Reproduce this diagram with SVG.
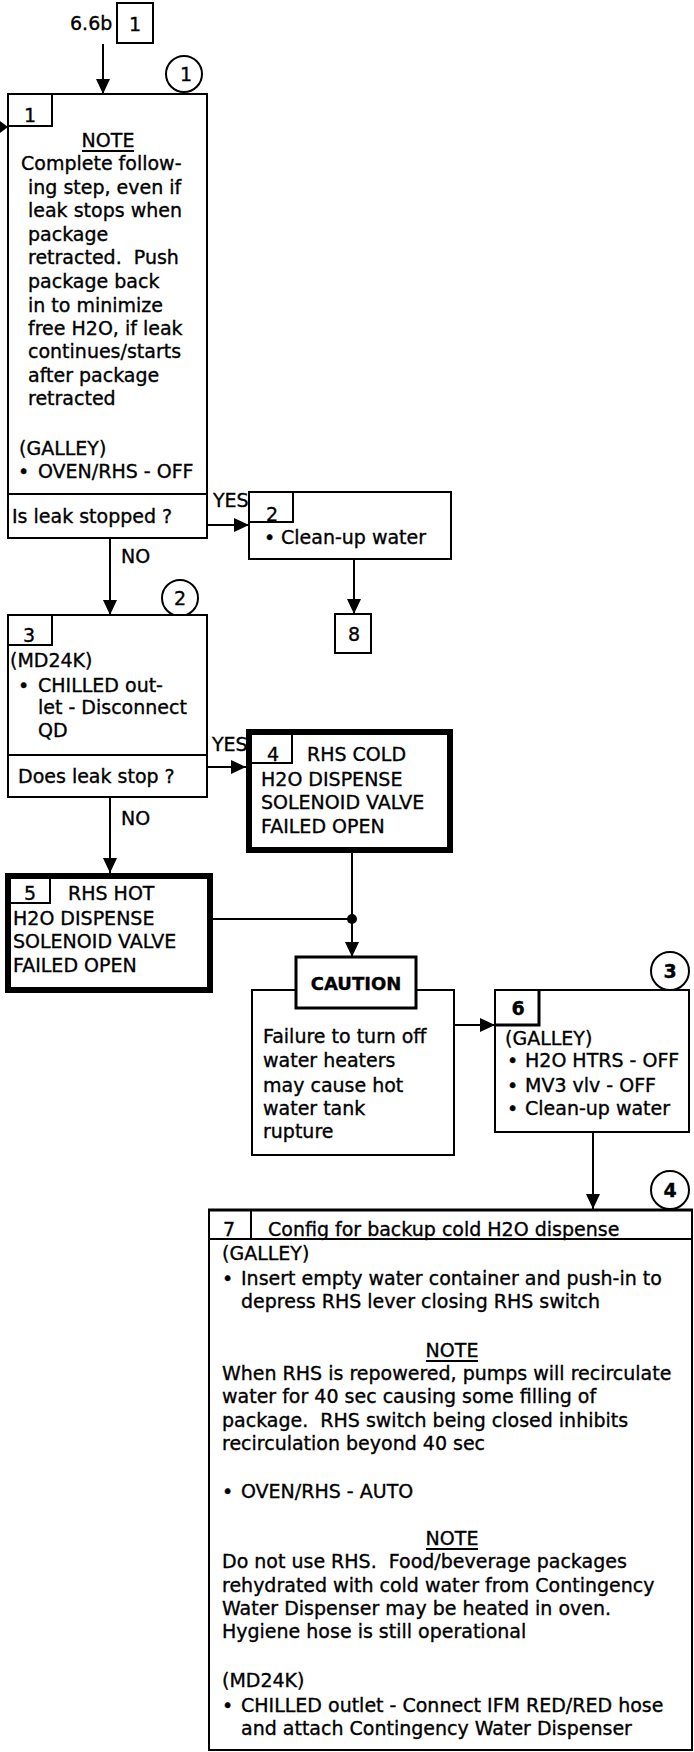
<svg xmlns="http://www.w3.org/2000/svg" width="694" height="1752" viewBox="0 0 694 1752">
<style>
text{font-family:"DejaVu Sans","Liberation Sans",sans-serif;font-size:19px;fill:#000;stroke:#000;stroke-width:0.35}
.b{font-weight:bold}
.m{text-anchor:middle}
.box{fill:#fff;stroke:#000;stroke-width:2}
.thick{fill:#fff;stroke:#000;stroke-width:6}
.ln{fill:none;stroke:#000;stroke-width:2}
.cap{font-weight:bold;font-size:18px}
</style>
<defs>
<marker id="ah" markerWidth="15" markerHeight="14" refX="15" refY="7" orient="auto" markerUnits="userSpaceOnUse"><path d="M0,0 L15,7 L0,14 z" fill="#000"/></marker>
</defs>
<g id="connectors">
<path class="ln" d="M103,44 V94" marker-end="url(#ah)"/>
<path d="M0,121 L8,127 L0,133 z" fill="#000"/>
<path class="ln" d="M207,525 H249" marker-end="url(#ah)"/>
<path class="ln" d="M110,538 V615" marker-end="url(#ah)"/>
<path class="ln" d="M354,559 V614" marker-end="url(#ah)"/>
<path class="ln" d="M207,767 H246" marker-end="url(#ah)"/>
<path class="ln" d="M110,797 V873" marker-end="url(#ah)"/>
<path class="ln" d="M352,853 V919 M213,919 H352"/>
<circle cx="352" cy="919" r="5" fill="#000"/>
<path class="ln" d="M352,919 V957" marker-end="url(#ah)"/>
<path class="ln" d="M454,1025 H495" marker-end="url(#ah)"/>
<path class="ln" d="M593,1132 V1209" marker-end="url(#ah)"/>
<text x="213" y="507">YES</text>
<text x="121" y="563">NO</text>
<text x="212" y="751">YES</text>
<text x="121" y="825">NO</text>
</g>
<g id="entry">
<text x="70" y="30">6.6b</text>
<rect class="box" x="117" y="3" width="36" height="40"/>
<text class="m" x="135" y="31">1</text>
</g>
<g id="circle1"><circle class="box" cx="184" cy="74" r="18"/><text class="m" x="186" y="81">1</text></g>
<g id="circle2"><circle class="box" cx="180" cy="598" r="18"/><text class="m" x="180" y="605">2</text></g>
<g id="circle3"><circle class="box" cx="670" cy="971" r="19"/><text class="m b" x="670" y="978">3</text></g>
<g id="circle4"><circle class="box" cx="670" cy="1190" r="19"/><text class="m b" x="670" y="1197">4</text></g>
<g id="step1">
<rect class="box" x="8" y="94" width="199" height="444"/>
<path class="ln" d="M8,126 H52 V94 M8,494 H207"/>
<text class="m" x="30" y="122">1</text>
<text class="m" x="108" y="147">NOTE</text>
<path class="ln" d="M82,151 H134"/>
<text x="21" y="170">Complete follow-</text>
<text x="28" y="194">ing step, even if</text>
<text x="28" y="217">leak stops when</text>
<text x="28" y="241">package</text>
<text x="28" y="264">retracted.&#160; Push</text>
<text x="28" y="288">package back</text>
<text x="28" y="312">in to minimize</text>
<text x="28" y="335">free H2O, if leak</text>
<text x="28" y="358">continues/starts</text>
<text x="28" y="382">after package</text>
<text x="28" y="405">retracted</text>
<text x="19" y="455">(GALLEY)</text>
<text x="18" y="478">•</text><text x="38" y="478">OVEN/RHS - OFF</text>
<text x="12" y="523">Is leak stopped ?</text>
</g>
<g id="step2">
<rect class="box" x="249" y="492" width="202" height="67"/>
<path class="ln" d="M249,522 H293 V492"/>
<text class="m" x="272" y="521">2</text>
<text x="264" y="544">•</text><text x="281" y="544">Clean-up water</text>
</g>
<g id="goto8">
<rect class="box" x="335" y="614" width="36" height="39"/>
<text class="m" x="354" y="641">8</text>
</g>
<g id="step3">
<rect class="box" x="8" y="615" width="199" height="182"/>
<path class="ln" d="M8,645 H52 V615 M8,755 H207"/>
<text class="m" x="29" y="642">3</text>
<text x="10" y="667">(MD24K)</text>
<text x="18" y="692">•</text><text x="38" y="692">CHILLED out-</text>
<text x="38" y="714">let - Disconnect</text>
<text x="38" y="737">QD</text>
<text x="18" y="783">Does leak stop ?</text>
</g>
<g id="step4">
<rect class="thick" x="249" y="732" width="201" height="118"/>
<path class="ln" d="M252,763 H292 V735"/>
<text class="m" x="273" y="761">4</text>
<text x="307" y="761">RHS COLD</text>
<text x="261" y="786">H2O DISPENSE</text>
<text x="261" y="809">SOLENOID VALVE</text>
<text x="261" y="833">FAILED OPEN</text>
</g>
<g id="step5">
<rect class="thick" x="8" y="876" width="202" height="114"/>
<path class="ln" d="M11,903 H50 V879"/>
<text class="m" x="30" y="900">5</text>
<text x="68" y="900">RHS HOT</text>
<text x="13" y="925">H2O DISPENSE</text>
<text x="13" y="948">SOLENOID VALVE</text>
<text x="13" y="972">FAILED OPEN</text>
</g>
<g id="caution">
<rect class="box" x="252" y="990" width="202" height="165"/>
<rect x="296" y="957" width="120" height="51" fill="#fff" stroke="#000" stroke-width="3"/>
<text class="m cap" x="356" y="990">CAUTION</text>
<text x="263" y="1043">Failure to turn off</text>
<text x="263" y="1067">water heaters</text>
<text x="263" y="1092">may cause hot</text>
<text x="263" y="1115">water tank</text>
<text x="263" y="1138">rupture</text>
</g>
<g id="step6">
<rect class="box" x="495" y="990" width="194" height="142"/>
<path fill="none" stroke="#000" stroke-width="3" d="M495,1025 H539 V990"/>
<text class="m b" x="518" y="1015">6</text>
<text x="505" y="1045">(GALLEY)</text>
<text x="507" y="1067">•</text><text x="525" y="1067">H2O HTRS - OFF</text>
<text x="507" y="1092">•</text><text x="525" y="1092">MV3 vlv - OFF</text>
<text x="507" y="1115">•</text><text x="525" y="1115">Clean-up water</text>
</g>
<g id="step7">
<rect class="box" x="209" y="1210" width="483" height="540"/>
<path fill="none" stroke="#000" stroke-width="3" d="M208,1210 H693"/>
<path class="ln" d="M209,1239 H692 M251,1210 V1239"/>
<text class="m" x="229" y="1236">7</text>
<text x="268" y="1236">Config for backup cold H2O dispense</text>
<text x="222" y="1260">(GALLEY)</text>
<text x="222" y="1285">•</text><text x="241" y="1285">Insert empty water container and push-in to</text>
<text x="241" y="1308">depress RHS lever closing RHS switch</text>
<text class="m" x="452" y="1357">NOTE</text>
<path class="ln" d="M426,1361 H478"/>
<text x="222" y="1380">When RHS is repowered, pumps will recirculate</text>
<text x="222" y="1403">water for 40 sec causing some filling of</text>
<text x="222" y="1427">package.&#160; RHS switch being closed inhibits</text>
<text x="222" y="1450">recirculation beyond 40 sec</text>
<text x="222" y="1498">•</text><text x="241" y="1498">OVEN/RHS - AUTO</text>
<text class="m" x="452" y="1545">NOTE</text>
<path class="ln" d="M426,1549 H478"/>
<text x="222" y="1568">Do not use RHS.&#160; Food/beverage packages</text>
<text x="222" y="1592">rehydrated with cold water from Contingency</text>
<text x="222" y="1615">Water Dispenser may be heated in oven.</text>
<text x="222" y="1638">Hygiene hose is still operational</text>
<text x="222" y="1687">(MD24K)</text>
<text x="222" y="1712">•</text><text x="241" y="1712">CHILLED outlet - Connect IFM RED/RED hose</text>
<text x="241" y="1735">and attach Contingency Water Dispenser</text>
</g>
</svg>
